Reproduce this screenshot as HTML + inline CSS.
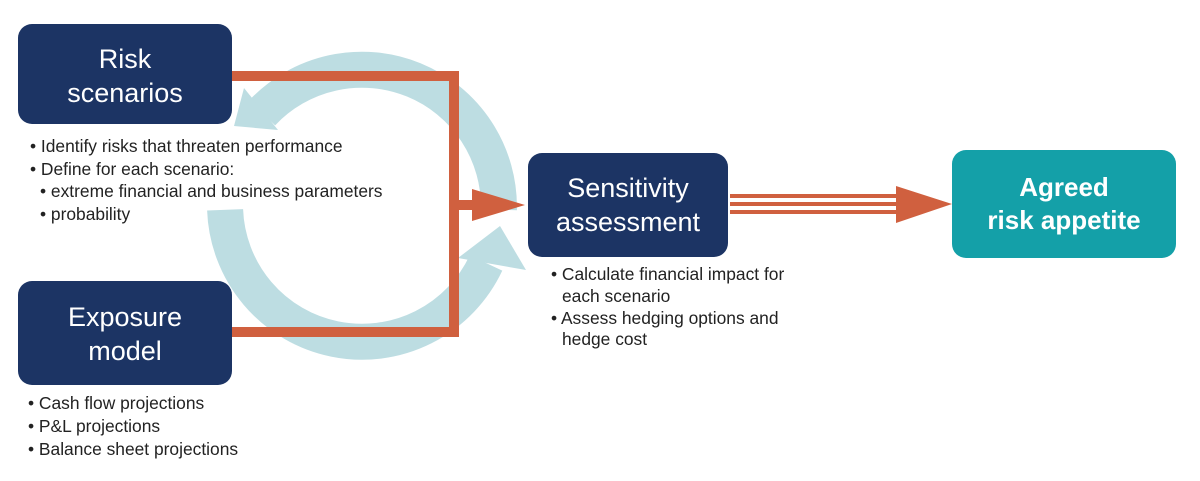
<!DOCTYPE html>
<html><head><meta charset="utf-8"><style>
html,body{margin:0;padding:0;background:#fff;width:1200px;height:481px;overflow:hidden}
svg{display:block}
text{font-family:"Liberation Sans",sans-serif}
</style></head><body>
<svg width="1200" height="481" viewBox="0 0 1200 481">
<g fill="#bddde2">
<path d="M225.1,209.8 A137,137 0 0 0 486,263" fill="none" stroke="#bddde2" stroke-width="36"/>
<polygon points="458,258 526,270 500,226"/>
<path d="M498.9,209.8 A137,137 0 0 0 262,113" fill="none" stroke="#bddde2" stroke-width="36"/>
<polygon points="234,126 278,130 244,88"/>
</g>
<g fill="#d0603f">
<rect x="232" y="71" width="227" height="10"/>
<rect x="449" y="71" width="10" height="266"/>
<rect x="232" y="327" width="227" height="10"/>
<rect x="459" y="200" width="15" height="10"/>
<polygon points="472,189 472,221 525,205"/>
<rect x="730" y="194" width="168" height="4"/>
<rect x="730" y="202" width="168" height="4"/>
<rect x="730" y="210" width="168" height="4"/>
<polygon points="896,186 896,223 952,204"/>
</g>
<rect x="18" y="24" width="214" height="100" rx="14" fill="#1c3464"/>
<rect x="18" y="281" width="214" height="104" rx="14" fill="#1c3464"/>
<rect x="528" y="153" width="200" height="104" rx="14" fill="#1c3464"/>
<rect x="952" y="150" width="224" height="108" rx="14" fill="#14a0a8"/>
<g fill="#fff" font-size="27" text-anchor="middle">
<text x="125" y="68">Risk</text><text x="125" y="102">scenarios</text>
<text x="125" y="326">Exposure</text><text x="125" y="360">model</text>
<text x="628" y="197">Sensitivity</text><text x="628" y="231">assessment</text>
<text x="1064" y="196" font-size="26" font-weight="bold">Agreed</text><text x="1064" y="229" font-size="26" font-weight="bold">risk appetite</text>
</g>
<g fill="#222" font-size="17.4">
<text x="30" y="152">• Identify risks that threaten performance</text>
<text x="30" y="175">• Define for each scenario:</text>
<text x="40" y="197">• extreme financial and business parameters</text>
<text x="40" y="220">• probability</text>
<text x="28" y="409">• Cash flow projections</text>
<text x="28" y="432">• P&amp;L projections</text>
<text x="28" y="455">• Balance sheet projections</text>
<text x="551" y="280">• Calculate financial impact for</text>
<text x="562" y="302">each scenario</text>
<text x="551" y="324">• Assess hedging options and</text>
<text x="562" y="345">hedge cost</text>
</g>
</svg>
</body></html>
